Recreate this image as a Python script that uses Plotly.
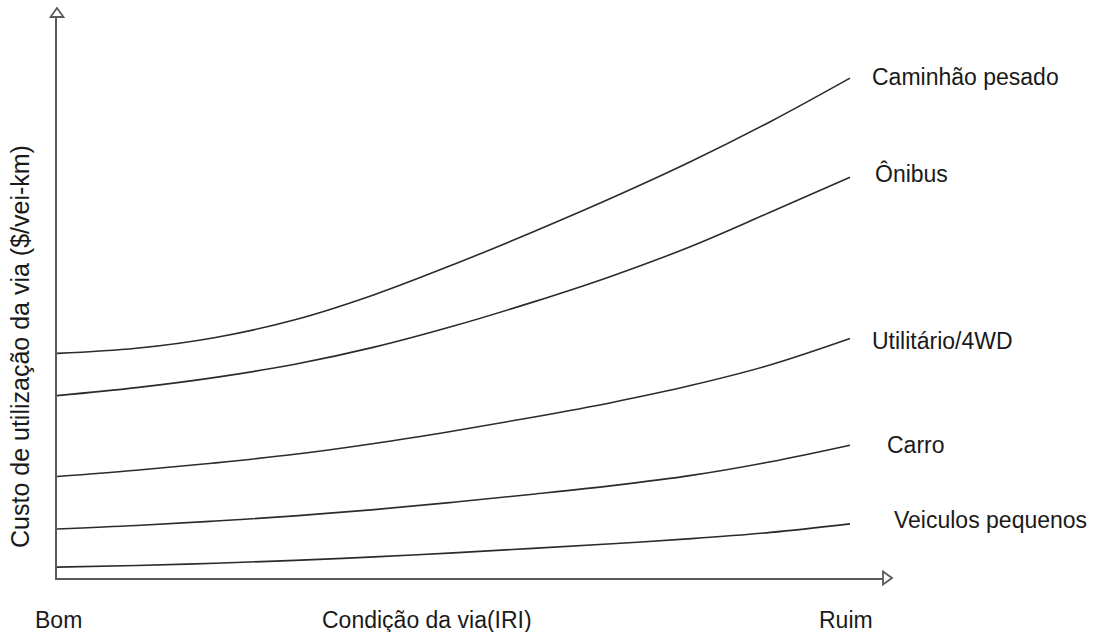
import plotly.graph_objects as go

# Road condition (0 = Bom ... 10 = Ruim)
condicao = [0, 1, 2, 3, 4, 5, 6, 7, 8, 9, 10]

caminhao_pesado = [39.4, 40.3, 42.2, 45.3, 49.7, 55.0, 60.7, 66.7, 73.1, 80.1, 87.7]
onibus = [32.0, 33.4, 35.2, 37.5, 40.5, 44.2, 48.4, 53.0, 58.2, 64.2, 70.3]
utilitario = [17.8, 18.9, 20.2, 21.7, 23.6, 25.8, 28.2, 30.8, 33.8, 37.4, 42.0]
carro = [8.6, 9.2, 10.0, 10.9, 12.0, 13.3, 14.7, 16.2, 18.0, 20.4, 23.3]
veiculos_pequenos = [1.9, 2.2, 2.6, 3.1, 3.7, 4.4, 5.2, 6.0, 6.9, 8.0, 9.5]

series_names = ["Caminhão pesado", "Ônibus", "Utilitário/4WD", "Carro", "Veiculos pequenos"]
series_values = [caminhao_pesado, onibus, utilitario, carro, veiculos_pequenos]

W, H = 1109, 632
L, R, T, B = 57, 226, 17, 54
PX_PER_X = 79.3
PX_PER_Y = 5.7
PW = W - L - R
PH = H - T - B
x_max = PW / PX_PER_X
y_max = PH / PX_PER_Y


def px_(px):
    return (px - L) / PW


def py_(py):
    return (H - B - py) / PH


FONT = "Liberation Sans, Arial, sans-serif"
LINE_COLOR = "#2b2b2b"
AXIS_COLOR = "#5a5a5a"
TEXT_COLOR = "#1a1a1a"

fig = go.Figure()
for name, vals in zip(series_names, series_values):
    fig.add_trace(go.Scatter(
        x=condicao, y=vals, mode="lines", name=name,
        line=dict(color=LINE_COLOR, width=1.6, shape="spline", smoothing=1.0),
        showlegend=False, hoverinfo="skip",
    ))


def tri(points):
    p = "M " + " L ".join(f"{px_(a):.5f},{py_(b):.5f}" for a, b in points) + " Z"
    return dict(type="path", xref="paper", yref="paper", path=p, layer="above",
                line=dict(color=AXIS_COLOR, width=1.8), fillcolor="white")


shapes = [
    tri([(57, 8), (50.5, 17), (63.5, 17)]),
    tri([(892, 578), (883, 571.5), (883, 584.5)]),
]

label_pos = [(870, 77), (873, 173), (870, 341), (885, 445), (892, 520)]
annotations = []


def ann(text, px, py, xanchor="left", angle=0, size=23):
    return dict(x=px_(px), y=py_(py), xref="paper", yref="paper", text=text, showarrow=False,
                xanchor=xanchor, yanchor="middle", textangle=angle,
                font=dict(size=size, color=TEXT_COLOR, family=FONT))


for name, (px, py) in zip(series_names, label_pos):
    annotations.append(ann(name, px, py))

annotations += [
    ann("Bom", 58, 620, "center"),
    ann("Condição da via(IRI)", 427, 620, "center"),
    ann("Ruim", 846, 620, "center"),
    ann("Custo de utilização da via ($/vei-km)", 20, 347, "center", -90, 25),
]

fig.update_layout(
    width=W, height=H,
    margin=dict(l=L, r=R, t=T, b=B),
    paper_bgcolor="white", plot_bgcolor="white",
    annotations=annotations,
    shapes=shapes,
    xaxis=dict(range=[0, x_max], showgrid=False, zeroline=False, showticklabels=False, ticks="",
               showline=True, linecolor=AXIS_COLOR, linewidth=2),
    yaxis=dict(range=[0, y_max], showgrid=False, zeroline=False, showticklabels=False, ticks="",
               showline=True, linecolor=AXIS_COLOR, linewidth=2),
)

fig.write_html("out.html", config={"displayModeBar": False},
               post_script="document.body.style.margin='0';")
